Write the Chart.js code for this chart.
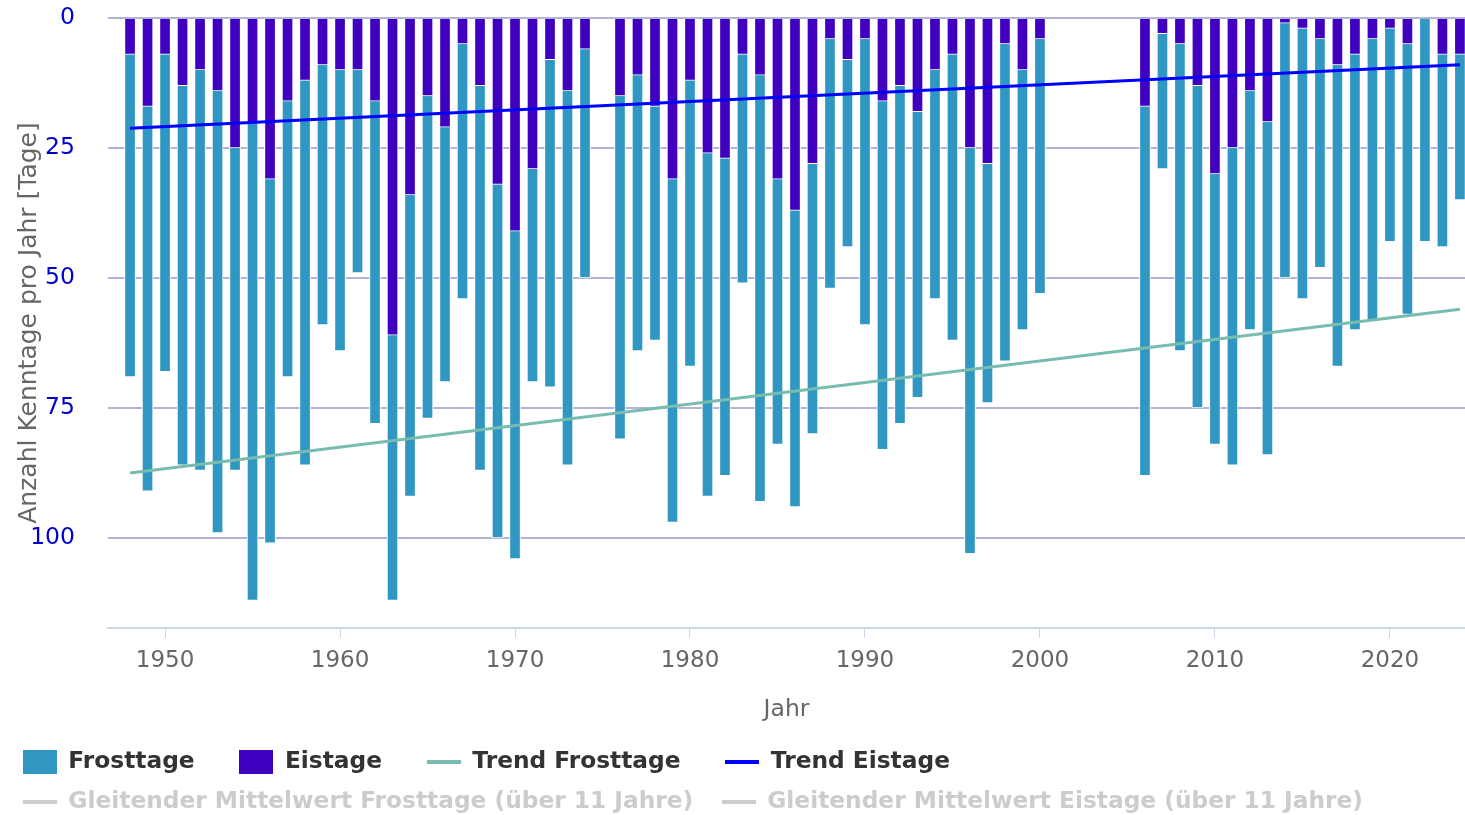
<!DOCTYPE html>
<html>
<head>
<meta charset="utf-8">
<script src="https://cdn.jsdelivr.net/npm/chart.js@4/dist/chart.umd.min.js"></script>
<style>
html,body{margin:0;padding:0;background:#fff;}
#wrap{width:1465px;height:815px;}
</style>
</head>
<body>
<div id="wrap"><canvas id="c" width="1465" height="815"></canvas></div>
<script>
const years = [1948,1949,1950,1951,1952,1953,1954,1955,1956,1957,1958,1959,1960,1961,1962,1963,1964,1965,1966,1967,1968,1969,1970,1971,1972,1973,1974,
  1976,1977,1978,1979,1980,1981,1982,1983,1984,1985,1986,1987,1988,1989,1990,1991,1992,1993,1994,1995,1996,1997,1998,1999,2000,
  2006,2007,2008,2009,2010,2011,2012,2013,2014,2015,2016,2017,2018,2019,2020,2021,2022,2023,2024];
const frosttage = [69,91,68,86,87,99,87,112,101,69,86,59,64,49,78,112,92,77,70,54,87,100,104,70,71,86,50,
  81,64,62,97,67,92,88,51,93,82,94,80,52,44,59,83,78,73,54,62,103,74,66,60,53,
  88,29,64,75,82,86,60,84,50,54,48,67,60,58,43,57,43,44,35];
const eistage = [7,17,7,13,10,14,25,20,31,16,12,9,10,10,16,61,34,15,21,5,13,32,41,29,8,14,6,
  15,11,17,31,12,26,27,7,11,31,37,28,4,8,4,16,13,18,10,7,25,28,5,10,4,
  17,3,5,13,30,25,14,20,1,2,4,9,7,4,2,5,0,7,7];
const trendYears = [1948, 2024];
const trendFrost = [87.5, 56.0];
const trendEis = [21.2, 9.0];
const xTickValues = [1950,1960,1970,1980,1990,2000,2010,2020];
const yTickValues = [0,25,50,75,100];

const C_FROST = '#2f97c1', C_EIS = '#4000bf', C_TF = '#78bcb0', C_TE = '#0000ff', C_GRAY = '#cccccc';

function sym(w, h, color) {
  const c = document.createElement('canvas');
  c.width = w; c.height = h;
  const g = c.getContext('2d');
  g.fillStyle = color; g.fillRect(0, 0, w, h);
  return c;
}

Chart.defaults.font.family = "'DejaVu Sans', sans-serif";

const pts = (xs, ys) => xs.map((x, i) => ({x: x, y: ys[i]}));

const datasets = [
  {type:'line', label:'Trend Frosttage', data: pts(trendYears, trendFrost), borderColor: C_TF, backgroundColor: C_TF, borderWidth: 3, pointRadius: 0, order: 0, sym: sym(34,4,C_TF)},
  {type:'line', label:'Trend Eistage', data: pts(trendYears, trendEis), borderColor: C_TE, backgroundColor: C_TE, borderWidth: 3, pointRadius: 0, order: 1, sym: sym(34,4,C_TE)},
  {type:'bar', label:'Eistage', data: pts(years, eistage), backgroundColor: C_EIS, borderColor:'#ffffff', borderWidth: 1, barThickness: 11, grouped: false, order: 2, sym: sym(34,24,C_EIS)},
  {type:'bar', label:'Frosttage', data: pts(years, frosttage), backgroundColor: C_FROST, borderColor:'#ffffff', borderWidth: 1, barThickness: 11, grouped: false, order: 3, sym: sym(34,24,C_FROST)},
  {type:'line', label:'Gleitender Mittelwert Frosttage (über 11 Jahre)', data: [], hidden: true, borderColor: C_GRAY, pointRadius: 0, order: 4, sym: sym(34,4,C_GRAY)},
  {type:'line', label:'Gleitender Mittelwert Eistage (über 11 Jahre)', data: [], hidden: true, borderColor: C_GRAY, pointRadius: 0, order: 5, sym: sym(34,4,C_GRAY)}
];
const legendOrder = [3, 2, 0, 1, 4, 5];
const legendPad = ['\u2003\u2009', '\u2003\u2009', '\u2003\u2009', '\u2003\u2009', '\u2002', ''];

new Chart(document.getElementById('c'), {
  type: 'bar',
  data: { datasets: datasets },
  options: {
    responsive: false,
    animation: false,
    devicePixelRatio: 1,
    layout: { padding: { left: 6, top: 18, right: 0, bottom: -9 } },
    plugins: {
      tooltip: { enabled: false },
      legend: {
        position: 'bottom',
        align: 'start',
        onClick: () => {},
        labels: {
          usePointStyle: true,
          pointStyleWidth: 34,
          boxHeight: 24,
          padding: 16.7,
          color: '#333333',
          font: { size: 23.3, weight: 'bold' },
          generateLabels: (chart) => legendOrder.map((i, k) => {
            const ds = chart.data.datasets[i];
            return {
              text: ds.label + legendPad[k],
              fillStyle: ds.borderColor,
              strokeStyle: ds.borderColor,
              lineWidth: 0,
              hidden: false,
              pointStyle: ds.sym,
              fontColor: ds.hidden ? C_GRAY : '#333333',
              datasetIndex: i
            };
          })
        }
      }
    },
    scales: {
      x: {
        type: 'linear',
        offset: false,
        min: 1946.74,
        max: 2024.29,
        afterBuildTicks: (s) => { s.ticks = xTickValues.map(v => ({value: v})); },
        afterFit: (s) => { s.height = 106; },
        ticks: { color: '#666666', font: { size: 23 }, padding: 9, maxRotation: 0, autoSkip: false, callback: (v) => String(v) },
        grid: { offset: false, drawOnChartArea: false, drawTicks: true, tickLength: 10, color: '#ccd6eb', lineWidth: 1 },
        border: { display: true, color: '#ccd6eb', width: 2 },
        title: { display: true, text: 'Jahr', color: '#666666', font: { size: 23.5 }, padding: { top: 0, bottom: 10 } }
      },
      y: {
        reverse: true,
        min: 0,
        max: 117.3,
        afterBuildTicks: (s) => { s.ticks = yTickValues.map(v => ({value: v})); },
        afterFit: (s) => { s.width = 102; },
        ticks: { color: '#0000cc', font: { size: 23.5 }, padding: 3 },
        grid: { color: '#b4b2d8', lineWidth: 2, drawTicks: true, tickLength: 30, tickColor: 'rgba(0,0,0,0)' },
        border: { display: false },
        title: { display: true, text: 'Anzahl Kenntage pro Jahr [Tage]', color: '#666666', font: { size: 25 }, padding: { top: 8, bottom: 0 } }
      }
    }
  }
});
</script>
</body>
</html>
